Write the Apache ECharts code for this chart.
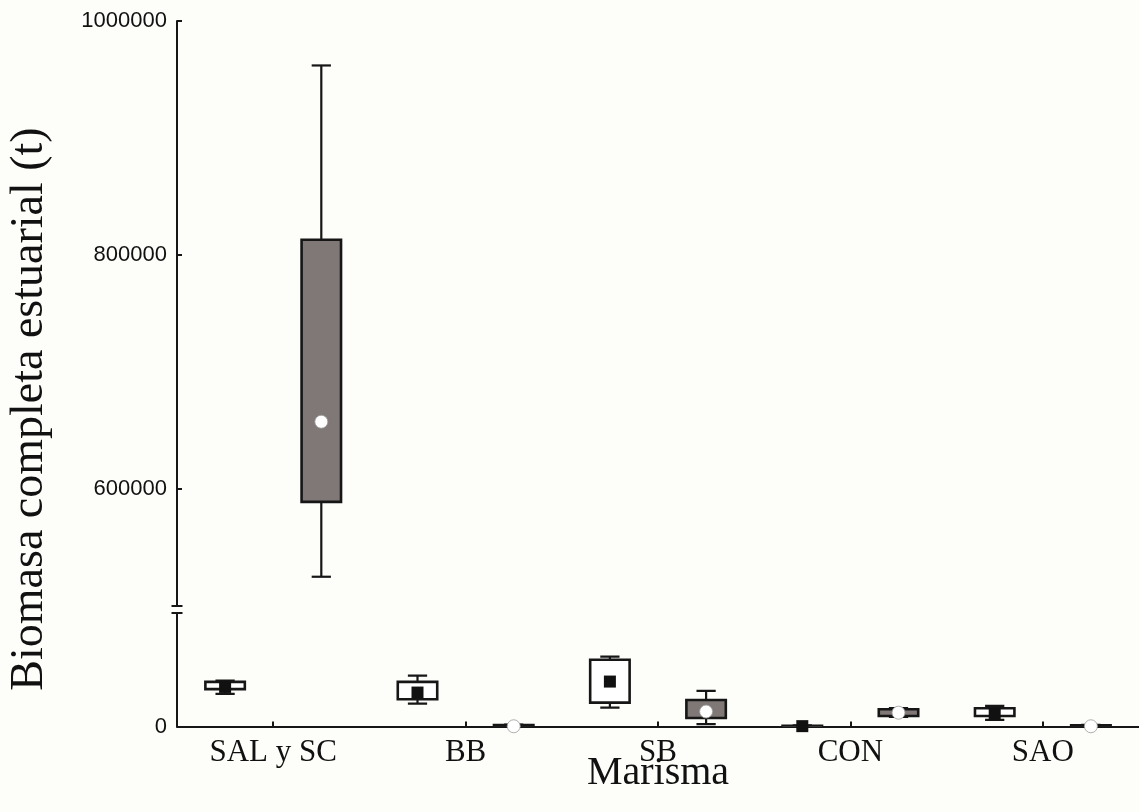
<!DOCTYPE html>
<html>
<head>
<meta charset="utf-8">
<script src="https://cdn.jsdelivr.net/npm/echarts@6/dist/echarts.min.js"></script>
<style>
  html, body { margin: 0; padding: 0; background: #fdfdfa; }
  #chart { width: 1139px; height: 812px; }
</style>
</head>
<body>
<div id="chart"></div>
<script>
// marismas
const categories = ['SAL y SC', 'BB', 'SB', 'CON', 'SAO'];

// white boxes (black square marker): [min, Q1, Q3, max]
const whiteBoxes = [
  [27800, 31900, 38100, 39200],
  [19500, 23300, 38100, 43500],
  [16100, 20400, 57000, 59800],
  [0, 100, 600, 900],
  [5600, 9000, 15600, 17600]
];
const whiteMarks = [33800, 29000, 38400, 300, 10900];

// grey boxes (white circle marker): [min, Q1, Q3, max]
const greyBoxes = [
  [525000, 589000, 813000, 962000],
  [0, 300, 1200, 1600],
  [2100, 7300, 22700, 30400],
  [8100, 9000, 14700, 15800],
  [0, 200, 1000, 1400]
];
const greyMarks = [657500, 200, 12800, 11800, 200];

// broken y axis
const upperMin = 500000, upperMax = 1000000;
const lowerMin = 0, lowerMax = 97000;
const upperTicks = [600000, 800000, 1000000];
const lowerTicks = [0];

const GRID_LEFT = 177;
const INK = '#161616';

// two slots per marisma (white box, grey box)
const slots = [];
categories.forEach(c => { slots.push(c + ' a'); slots.push(c + ' b'); });

function boxData(list, shift) {
  return list.map((b, i) => [2 * i + shift].concat(b));
}
function markData(list, shift) {
  return list.map((v, i) => [2 * i + shift, v]);
}

function boxRenderer(fill) {
  return function (params, api) {
    const x = api.value(0);
    const pMin = api.coord([x, api.value(1)]);
    const pQ1 = api.coord([x, api.value(2)]);
    const pQ3 = api.coord([x, api.value(3)]);
    const pMax = api.coord([x, api.value(4)]);
    const band = api.size([1, 0])[0];
    const bw = band * 0.41, cw = band * 0.2;
    const cx = pQ1[0];
    const line = { stroke: INK, lineWidth: 2.2 };
    return {
      type: 'group',
      children: [
        { type: 'line', shape: { x1: cx, y1: pMax[1], x2: cx, y2: pQ3[1] }, style: line },
        { type: 'line', shape: { x1: cx, y1: pQ1[1], x2: cx, y2: pMin[1] }, style: line },
        { type: 'line', shape: { x1: cx - cw / 2, y1: pMax[1], x2: cx + cw / 2, y2: pMax[1] }, style: line },
        { type: 'line', shape: { x1: cx - cw / 2, y1: pMin[1], x2: cx + cw / 2, y2: pMin[1] }, style: line },
        { type: 'rect', shape: { x: cx - bw / 2, y: pQ3[1], width: bw, height: pQ1[1] - pQ3[1] },
          style: { fill: fill, stroke: INK, lineWidth: 2.6 } }
      ]
    };
  };
}

const series = [];
[0, 1].forEach(g => {
  series.push({
    type: 'custom', xAxisIndex: g, yAxisIndex: g, clip: true,
    renderItem: boxRenderer('#ffffff'), data: boxData(whiteBoxes, 0)
  });
  series.push({
    type: 'custom', xAxisIndex: g, yAxisIndex: g, clip: true,
    renderItem: boxRenderer('#7f7876'), data: boxData(greyBoxes, 1)
  });
  series.push({
    type: 'scatter', xAxisIndex: g, yAxisIndex: g, clip: true, z: 5,
    symbol: 'rect', symbolSize: 12, itemStyle: { color: '#111', opacity: 1 },
    data: markData(whiteMarks, 0)
  });
  series.push({
    type: 'scatter', xAxisIndex: g, yAxisIndex: g, clip: true, z: 5,
    symbol: 'circle', symbolSize: 13,
    itemStyle: { color: '#ffffff', borderColor: '#9a9a9a', borderWidth: 0.8, opacity: 1 },
    data: markData(greyMarks, 1)
  });
});

const axisLine = { show: true, lineStyle: { color: INK, width: 2 } };
const sansLabel = {
  fontFamily: 'Liberation Sans, Arial, sans-serif', fontSize: 22, color: '#111', margin: 10,
  formatter: v => String(v)
};

const chart = echarts.init(document.getElementById('chart'));
chart.setOption({
  backgroundColor: '#fdfdfa',
  animation: false,
  grid: [
    { left: GRID_LEFT, top: 21, width: 970, height: 585 },
    { left: GRID_LEFT, top: 613, width: 970, height: 113.5 }
  ],
  xAxis: [
    { gridIndex: 0, type: 'category', data: slots, show: false },
    { gridIndex: 1, type: 'category', data: slots, show: false },
    {
      gridIndex: 1, type: 'category', data: categories, position: 'bottom',
      axisLine: axisLine,
      axisTick: { show: true, inside: true, alignWithLabel: true, length: 5, lineStyle: { color: INK, width: 2 } },
      axisLabel: { fontFamily: 'Liberation Serif, Times New Roman, serif', fontSize: 31, color: '#111', margin: 11 },
      splitLine: { show: false }
    }
  ],
  yAxis: [
    {
      gridIndex: 0, type: 'value', min: upperMin, max: upperMax,
      axisLine: axisLine,
      axisTick: { show: true, inside: true, length: 5, customValues: upperTicks, lineStyle: { color: INK, width: 2 } },
      axisLabel: Object.assign({ customValues: upperTicks }, sansLabel),
      splitLine: { show: false }
    },
    {
      gridIndex: 1, type: 'value', min: lowerMin, max: lowerMax,
      axisLine: axisLine,
      axisTick: { show: false },
      axisLabel: Object.assign({ customValues: lowerTicks }, sansLabel),
      splitLine: { show: false }
    }
  ],
  series: series
});

// break caps on the y axis line
const yBreakTop = chart.convertToPixel({ yAxisIndex: 0 }, upperMin);
const yBreakBot = chart.convertToPixel({ yAxisIndex: 1 }, lowerMax);
const cap = y => ({
  type: 'line', z: 10,
  shape: { x1: GRID_LEFT - 5.5, y1: y, x2: GRID_LEFT + 5.5, y2: y },
  style: { stroke: INK, lineWidth: 2 }
});

chart.setOption({
  graphic: [
    cap(yBreakTop),
    cap(yBreakBot),
    {
      type: 'text', x: 30, y: 409, rotation: Math.PI / 2,
      style: {
        text: 'Biomasa completa estuarial (t)',
        font: '46px "Liberation Serif", "Times New Roman", serif',
        fill: '#111', align: 'center', verticalAlign: 'middle'
      }
    },
    {
      type: 'text', x: 658, y: 773,
      style: {
        text: 'Marisma',
        font: '40px "Liberation Serif", "Times New Roman", serif',
        fill: '#111', align: 'center', verticalAlign: 'middle'
      }
    }
  ]
});
</script>
</body>
</html>
